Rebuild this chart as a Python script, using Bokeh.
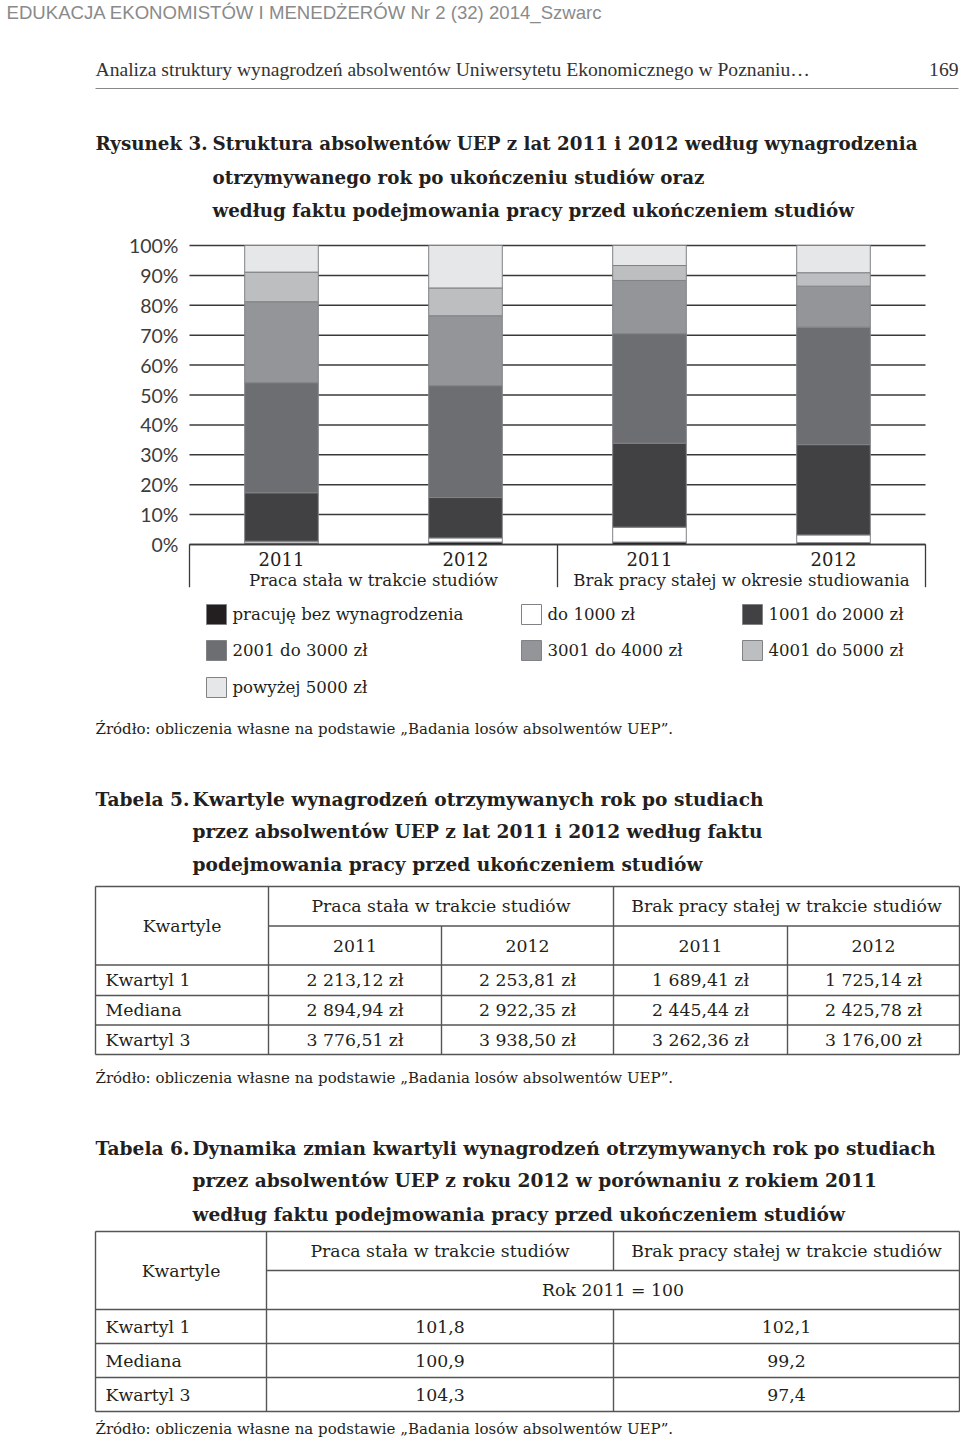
from bokeh.plotting import figure
from bokeh.models import Range1d, ColumnDataSource
from bokeh.core.properties import value
from bokeh.embed import file_html
from bokeh.resources import INLINE

# ---------------- data ----------------
years = ["2011", "2012", "2011", "2012"]
groups = ["Praca stała w trakcie studiów", "Brak pracy stałej w okresie studiowania"]
series = ["pracuję bez wynagrodzenia", "do 1000 zł", "1001 do 2000 zł",
          "2001 do 3000 zł", "3001 do 4000 zł", "4001 do 5000 zł", "powyżej 5000 zł"]
bez_wynagrodzenia = [0.5, 0.8, 0.8, 0.6]
do_1000 = [0.6, 1.4, 5.0, 2.6]
od_1001_do_2000 = [16.2, 13.5, 28.1, 30.2]
od_2001_do_3000 = [36.8, 37.4, 36.6, 39.3]
od_3001_do_4000 = [27.1, 23.4, 17.8, 13.7]
od_4001_do_5000 = [9.9, 9.3, 5.0, 4.5]
powyzej_5000 = [8.9, 14.2, 6.7, 9.1]
y_ticks = [0, 10, 20, 30, 40, 50, 60, 70, 80, 90, 100]
tick_labels = ["0%", "10%", "20%", "30%", "40%", "50%", "60%", "70%", "80%", "90%", "100%"]
colors = ["#231f20", "#ffffff", "#414042", "#6d6e71", "#939598", "#bcbec0", "#e6e7e8"]

t5_rows = ["Kwartyl 1", "Mediana", "Kwartyl 3"]
t5_praca_2011 = ["2 213,12 zł", "2 894,94 zł", "3 776,51 zł"]
t5_praca_2012 = ["2 253,81 zł", "2 922,35 zł", "3 938,50 zł"]
t5_brak_2011 = ["1 689,41 zł", "2 445,44 zł", "3 262,36 zł"]
t5_brak_2012 = ["1 725,14 zł", "2 425,78 zł", "3 176,00 zł"]
t6_praca = ["101,8", "100,9", "104,3"]
t6_brak = ["102,1", "99,2", "97,4"]

# ---------------- figure (page coordinates) ----------------
W, H = 960, 1442
p = figure(width=W, height=H, output_backend="svg", toolbar_location=None,
           x_range=Range1d(0, W), y_range=Range1d(H, 0),
           min_border=0, x_axis_location=None, y_axis_location=None,
           outline_line_color=None, background_fill_color="white",
           border_fill_color="white")
p.grid.visible = False

# chart scales: x unit = one bar slot, y unit = percent
X0, XPX = 189.0, 184.0
Y0, YPX = 544.0, 2.99
p.extra_x_ranges = {"cx": Range1d((0 - X0) / XPX, (W - X0) / XPX)}
p.extra_y_ranges = {"cy": Range1d((Y0 - H) / YPX, (Y0 - 0) / YPX)}

SERIF = value("DejaVu Serif")
INK = "#231f20"


def txt(xs, ys, texts, size, align="left", bold=False, font=SERIF, color=INK,
        xr="default", yr="default", x_off=0, y_off=0):
    src = ColumnDataSource(dict(x=xs, y=ys, t=texts))
    p.text(x="x", y="y", text="t", source=src, text_font=font,
           text_font_size=f"{size}px", text_align=align, text_baseline="middle",
           text_font_style="bold" if bold else "normal", text_color=color,
           x_range_name=xr, y_range_name=yr, x_offset=x_off, y_offset=y_off)


def seg(x0, y0, x1, y1, color="#555555", width=1.4, xr="default", yr="default"):
    p.segment(x0=x0, y0=y0, x1=x1, y1=y1, line_color=color, line_width=width,
              x_range_name=xr, y_range_name=yr)


TITLE = 18.6
TITLE_FIG = 18.3
BODY = 17.3
CH = 16.6
SRC = 15.0

# ---------------- page header ----------------
txt([6], [12], ["EDUKACJA EKONOMISTÓW I MENEDŻERÓW Nr 2 (32) 2014_Szwarc"], 18.6,
    font=value("Liberation Sans"), color="#8a8a8a")
txt([95], [69], ["Analiza struktury wynagrodzeń absolwentów Uniwersytetu Ekonomicznego w Poznaniu…"],
    19.6, font=value("Liberation Serif"), color="#333333")
txt([958], [69], ["169"], 19.6, align="right", font=value("Liberation Serif"), color="#333333")
seg([95], [88], [958], [88], color="#888888", width=1)

# ---------------- figure title ----------------
txt([95], [143], ["Rysunek 3."], TITLE_FIG, bold=True)
txt([212, 212, 212], [143, 177, 210],
    ["Struktura absolwentów UEP z lat 2011 i 2012 według wynagrodzenia",
     "otrzymywanego rok po ukończeniu studiów oraz",
     "według faktu podejmowania pracy przed ukończeniem studiów"], TITLE_FIG, bold=True)

# ---------------- chart ----------------
xs = [i + 0.5 for i in range(len(years))]
# gridlines
seg([0] * len(y_ticks), y_ticks, [4] * len(y_ticks), y_ticks, color="#3a3a3a",
    width=1.5, xr="cx", yr="cy")
txt([0] * len(y_ticks), y_ticks, tick_labels, 19.5, align="right",
    font=value("Lato"), color="#3c3c3c", xr="cx", yr="cy", x_off=-11)

src = ColumnDataSource(dict(x=xs, bez=bez_wynagrodzenia, d1000=do_1000,
                            s1=od_1001_do_2000, s2=od_2001_do_3000,
                            s3=od_3001_do_4000, s4=od_4001_do_5000,
                            s5=powyzej_5000))
keys = ["bez", "d1000", "s1", "s2", "s3", "s4", "s5"]
p.vbar_stack(keys, x="x", width=0.4, fill_color=colors, line_color="#808285",
             line_width=1, source=src, x_range_name="cx", y_range_name="cy")

# category axis box
seg([0], [0], [4], [0], color="#3a3a3a", width=1.5, xr="cx", yr="cy")
box_depth = -(586.7 - Y0) / YPX
seg([0, 2, 4], [0, 0, 0], [0, 2, 4], [box_depth] * 3, color="#3a3a3a",
    width=1.3, xr="cx", yr="cy")
txt(xs, [0] * 4, years, 18, align="center", xr="cx", yr="cy", y_off=14)
txt([1, 3], [0, 0], groups, CH, align="center", xr="cx", yr="cy", y_off=36)

# legend
col_x = [216, 531, 752]
row_y = [614, 650, 687]
lx = [col_x[i % 3] for i in range(len(series))]
ly = [row_y[i // 3] for i in range(len(series))]
p.rect(x=lx, y=ly, width=20, height=20, width_units="screen", height_units="screen",
       fill_color=colors, line_color="#808285", line_width=1)
txt([x + 16 for x in lx], ly, series, CH)

txt([95], [728], ["Źródło: obliczenia własne na podstawie „Badania losów absolwentów UEP”."], SRC)

# ---------------- Tabela 5 ----------------
txt([95], [799], ["Tabela 5."], TITLE, bold=True)
txt([192, 192, 192], [799, 831, 864],
    ["Kwartyle wynagrodzeń otrzymywanych rok po studiach",
     "przez absolwentów UEP z lat 2011 i 2012 według faktu",
     "podejmowania pracy przed ukończeniem studiów"], TITLE, bold=True)

L, R = 95, 959
c1, c2, c3, c4 = 268, 441, 613, 787
t5_top, t5_mid, t5_hdr, t5_bot = 886, 925.5, 964.5, 1054
t5_r1, t5_r2 = 995, 1024.5
seg([L, L, c1, L, L, L], [t5_top, t5_bot, t5_mid, t5_hdr, t5_r1, t5_r2],
    [R, R, R, R, R, R], [t5_top, t5_bot, t5_mid, t5_hdr, t5_r1, t5_r2])
seg([L, R, c1, c3, c2, c4], [t5_top, t5_top, t5_top, t5_top, t5_mid, t5_mid],
    [L, R, c1, c3, c2, c4], [t5_bot] * 6)
txt([(L + c1) / 2], [(t5_top + t5_hdr) / 2], ["Kwartyle"], BODY, align="center")
txt([(c1 + c3) / 2, (c3 + R) / 2], [(t5_top + t5_mid) / 2] * 2,
    ["Praca stała w trakcie studiów", "Brak pracy stałej w trakcie studiów"], BODY, align="center")
txt([(c1 + c2) / 2, (c2 + c3) / 2, (c3 + c4) / 2, (c4 + R) / 2], [(t5_mid + t5_hdr) / 2] * 4,
    years, BODY, align="center")
rows_y5 = [(t5_hdr + t5_r1) / 2, (t5_r1 + t5_r2) / 2, (t5_r2 + t5_bot) / 2]
txt([105] * 3, rows_y5, t5_rows, BODY)
txt([(c1 + c2) / 2] * 3, rows_y5, t5_praca_2011, BODY, align="center")
txt([(c2 + c3) / 2] * 3, rows_y5, t5_praca_2012, BODY, align="center")
txt([(c3 + c4) / 2] * 3, rows_y5, t5_brak_2011, BODY, align="center")
txt([(c4 + R) / 2] * 3, rows_y5, t5_brak_2012, BODY, align="center")
txt([95], [1077], ["Źródło: obliczenia własne na podstawie „Badania losów absolwentów UEP”."], SRC)

# ---------------- Tabela 6 ----------------
txt([95], [1148], ["Tabela 6."], TITLE, bold=True)
txt([192, 192, 192], [1148, 1180, 1214],
    ["Dynamika zmian kwartyli wynagrodzeń otrzymywanych rok po studiach",
     "przez absolwentów UEP z roku 2012 w porównaniu z rokiem 2011",
     "według faktu podejmowania pracy przed ukończeniem studiów"], TITLE, bold=True)

d1, d2 = 266, 613
t6_top, t6_mid, t6_hdr, t6_bot = 1231, 1270, 1309, 1411
t6_r1, t6_r2 = 1343, 1377
seg([L, L, d1, L, L, L], [t6_top, t6_bot, t6_mid, t6_hdr, t6_r1, t6_r2],
    [R, R, R, R, R, R], [t6_top, t6_bot, t6_mid, t6_hdr, t6_r1, t6_r2])
seg([L, R, d1, d2, d2], [t6_top, t6_top, t6_top, t6_top, t6_hdr],
    [L, R, d1, d2, d2], [t6_bot, t6_bot, t6_bot, t6_mid, t6_bot])
txt([(L + d1) / 2], [(t6_top + t6_hdr) / 2], ["Kwartyle"], BODY, align="center")
txt([(d1 + d2) / 2, (d2 + R) / 2], [(t6_top + t6_mid) / 2] * 2,
    ["Praca stała w trakcie studiów", "Brak pracy stałej w trakcie studiów"], BODY, align="center")
txt([(d1 + R) / 2], [(t6_mid + t6_hdr) / 2], ["Rok 2011 = 100"], BODY, align="center")
rows_y6 = [(t6_hdr + t6_r1) / 2, (t6_r1 + t6_r2) / 2, (t6_r2 + t6_bot) / 2]
txt([105] * 3, rows_y6, t5_rows, BODY)
txt([(d1 + d2) / 2] * 3, rows_y6, t6_praca, BODY, align="center")
txt([(d2 + R) / 2] * 3, rows_y6, t6_brak, BODY, align="center")
txt([95], [1428], ["Źródło: obliczenia własne na podstawie „Badania losów absolwentów UEP”."], SRC)

open("out.html", "w").write(file_html(p, INLINE))
